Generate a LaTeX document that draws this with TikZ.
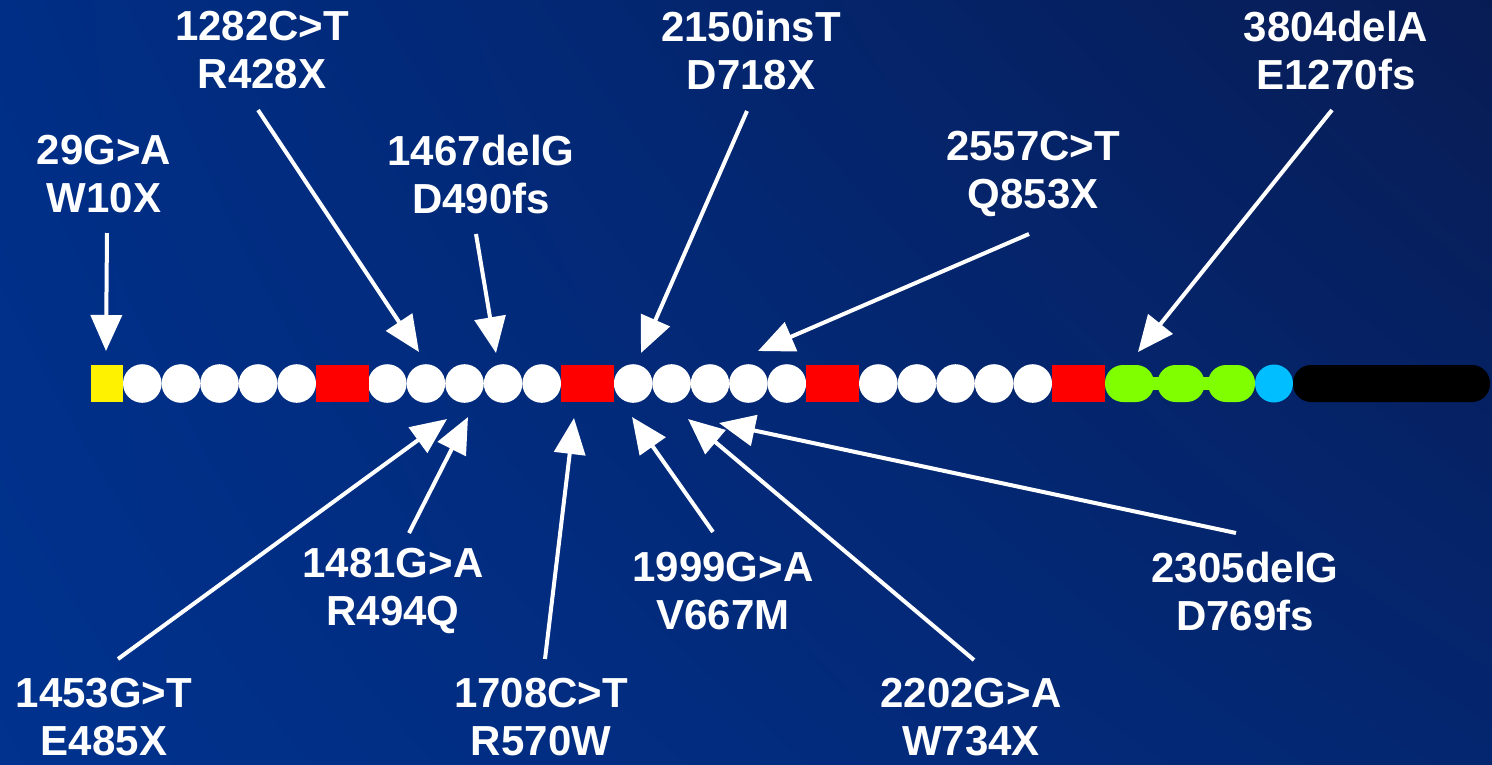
\documentclass[tikz,border=0pt]{standalone}
\usepackage{fontspec}
\setmainfont{Liberation Sans}
\usetikzlibrary{arrows.meta,shadings}
\definecolor{bgUL}{RGB}{0,46,134}
\definecolor{bgUR}{RGB}{8,28,84}
\definecolor{bgLL}{RGB}{0,50,142}
\definecolor{bgLR}{RGB}{4,38,112}
\definecolor{gfp}{RGB}{128,255,0}
\definecolor{cyanb}{RGB}{0,190,255}
\begin{document}
\begin{tikzpicture}[x=1pt,y=-1pt,
  lbl/.style={text=white, font=\fontsize{42}{48}\selectfont\bfseries, align=center, inner sep=0pt},
  arr/.style={draw=white, line width=4pt, -{Triangle[length=36pt,width=31pt]}},
  wc/.style={circle, fill=white, minimum size=38.6pt, inner sep=0pt},
  rsq/.style={fill=red, minimum width=53pt, minimum height=37pt, inner sep=0pt},
  gblob/.style={fill=gfp, minimum width=49pt, minimum height=37pt, inner sep=0pt, rounded corners=18pt}]
\useasboundingbox (0,0) rectangle (1492,764);
\shade[upper left=bgUL, upper right=bgUR, lower left=bgLL, lower right=bgLR] (0,0) rectangle (1492,764);

% bar
\node[fill=yellow, minimum width=32pt, minimum height=37pt, inner sep=0pt] (ye) at (107,383.5) {};
\foreach \i/\x in {1/142.3,2/180.9,3/219.5,4/258.1,5/296.7,
                   6/387.3,7/425.9,8/464.5,9/503.1,10/541.7,
                   11/633.2,12/671.6,13/710,14/748.4,15/786.8,
                   16/878.3,17/916.9,18/955.5,19/994.1,20/1032.7}
  \node[wc] (c\i) at (\x,383.5) {};
\node[rsq] (r1) at (342,383.5) {};
\node[rsq] (r2) at (587.5,383.5) {};
\node[rsq] (r3) at (832.5,383.5) {};
\node[rsq] (r4) at (1078,383.5) {};
\fill[gfp] (1110,377) rectangle (1250,390);
\node[gblob] (g1) at (1129.5,383.5) {};
\node[gblob, minimum width=47pt] (g2) at (1181,383.5) {};
\node[gblob, minimum width=47pt] (g3) at (1231.5,383.5) {};
\node[circle, fill=cyanb, minimum size=38pt, inner sep=0pt] (cy) at (1274,383.5) {};
\node[fill=black, minimum width=197pt, minimum height=37pt, inner sep=0pt, rounded corners=18pt] (blk) at (1391.5,383.5) {};

% labels
\node[lbl] (L29)   at (104,174)  {29G>A\\W10X};
\node[lbl] (L1282) at (262,50)   {1282C>T\\R428X};
\node[lbl] (L1467) at (481,174)  {1467delG\\D490fs};
\node[lbl] (L2150) at (751,50)   {2150insT\\D718X};
\node[lbl] (L2557) at (1033,174) {2557C>T\\Q853X};
\node[lbl] (L3804) at (1336,50)  {3804delA\\E1270fs};
\node[lbl] (L1453) at (104,717)  {1453G>T\\E485X};
\node[lbl] (L1481) at (393,591)  {1481G>A\\R494Q};
\node[lbl] (L1708) at (541,717)  {1708C>T\\R570W};
\node[lbl] (L1999) at (723,591)  {1999G>A\\V667M};
\node[lbl] (L2202) at (971,717)  {2202G>A\\W734X};
\node[lbl] (L2305) at (1245,591) {2305delG\\D769fs};

% arrow ends
\coordinate (s1) at (107,233);   \coordinate (t1) at (106,351);
\coordinate (s2) at (258,110);   \coordinate (t2) at (419,352);
\coordinate (s3) at (476,234);   \coordinate (t3) at (496,353);
\coordinate (s4) at (747,111);   \coordinate (t4) at (641,353);
\coordinate (s5) at (1029,234);  \coordinate (t5) at (758,351);
\coordinate (s6) at (1332,110);  \coordinate (t6) at (1138,352);
\coordinate (s7) at (118,659);   \coordinate (t7) at (447,419);
\coordinate (s8) at (409,533);   \coordinate (t8) at (468,417);
\coordinate (s9) at (545,659);   \coordinate (t9) at (574,418);
\coordinate (s10) at (713,532);  \coordinate (t10) at (632,417);
\coordinate (s11) at (974,660);  \coordinate (t11) at (688,419);
\coordinate (s12) at (1236,533); \coordinate (t12) at (719,423);
\foreach \k in {1,...,12}
  \draw[arr] (s\k) -- (t\k);
\end{tikzpicture}
\end{document}
